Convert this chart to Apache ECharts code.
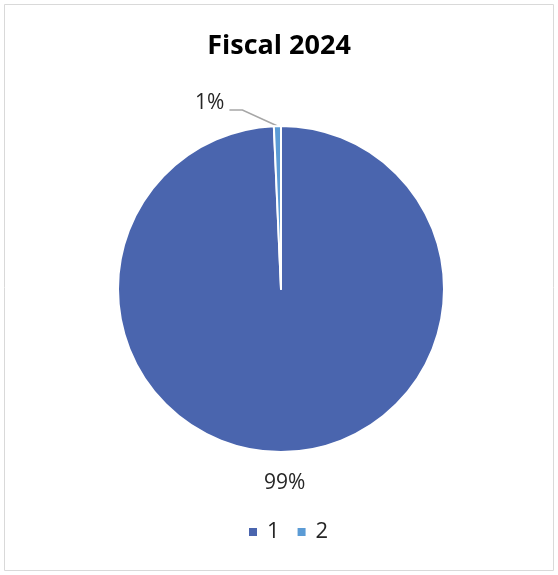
<!DOCTYPE html>
<html>
<head>
<meta charset="utf-8">
<script src="https://cdn.jsdelivr.net/npm/echarts@6/dist/echarts.min.js"></script>
<style>
  html, body { margin: 0; padding: 0; background: #fff; }
  #chart { width: 558px; height: 575px; }
</style>
</head>
<body>
<div id="chart"></div>
<script>
const categories = ['1', '2'];
const shares = [99.3, 0.7];
const sliceColors = ['#4a65ae', '#5b9bd5'];

const chart = echarts.init(document.getElementById('chart'));

// excel-ish label placement: 99% centered under the pie, 1% pulled up-left with an elbow line
function placeLabel(params) {
    const pts = params.labelLinePoints;
    if (!pts) return {};
    const p0 = pts[0];
    if (params.dataIndex === 0) {
        return { x: p0[0], y: p0[1] + 31, align: 'center', verticalAlign: 'middle' };
    }
    const elbow = [p0[0] - 35, p0[1] - 16];
    const end = [p0[0] - 48, p0[1] - 16];
    return {
        x: end[0] - 5,
        y: end[1] - 7,
        align: 'right',
        verticalAlign: 'middle',
        labelLinePoints: [p0, elbow, end]
    };
}

const option = {
    animation: false,
    color: sliceColors,
    title: {
        text: 'Fiscal 2024',
        left: 'center',
        top: 28,
        textStyle: {
            fontFamily: 'Open Sans',
            fontSize: 27,
            fontWeight: 'bold',
            color: '#000'
        }
    },
    legend: {
        top: 521,
        left: 247,
        padding: 0,
        itemWidth: 10,
        itemHeight: 10,
        itemGap: 16,
        icon: 'rect',
        textStyle: { fontFamily: 'Open Sans', fontSize: 22, color: '#262626', padding: [0, 0, 0, 4] },
        data: categories
    },
    graphic: [{
        type: 'rect',
        shape: { x: 4.5, y: 4.5, width: 549, height: 566 },
        style: { fill: 'none', stroke: '#d9d9d9', lineWidth: 1 },
        silent: true
    }],
    series: [{
        type: 'pie',
        center: [281, 289],
        radius: [0, 163],
        startAngle: 90,
        clockwise: true,
        avoidLabelOverlap: false,
        itemStyle: { borderColor: '#fff', borderWidth: 2 },
        label: {
            position: 'outside',
            fontFamily: 'Open Sans',
            fontSize: 21,
            color: '#262626',
            formatter: p => Math.round(p.percent) + '%'
        },
        labelLine: {
            show: true,
            length: 20,
            length2: 10,
            lineStyle: { color: '#a6a6a6', width: 1.5 }
        },
        labelLayout: placeLabel,
        data: categories.map((name, i) => ({
            name: name,
            value: shares[i],
            labelLine: i === 0 ? { lineStyle: { opacity: 0 } } : {}
        }))
    }]
};

chart.setOption(option);
</script>
</body>
</html>
